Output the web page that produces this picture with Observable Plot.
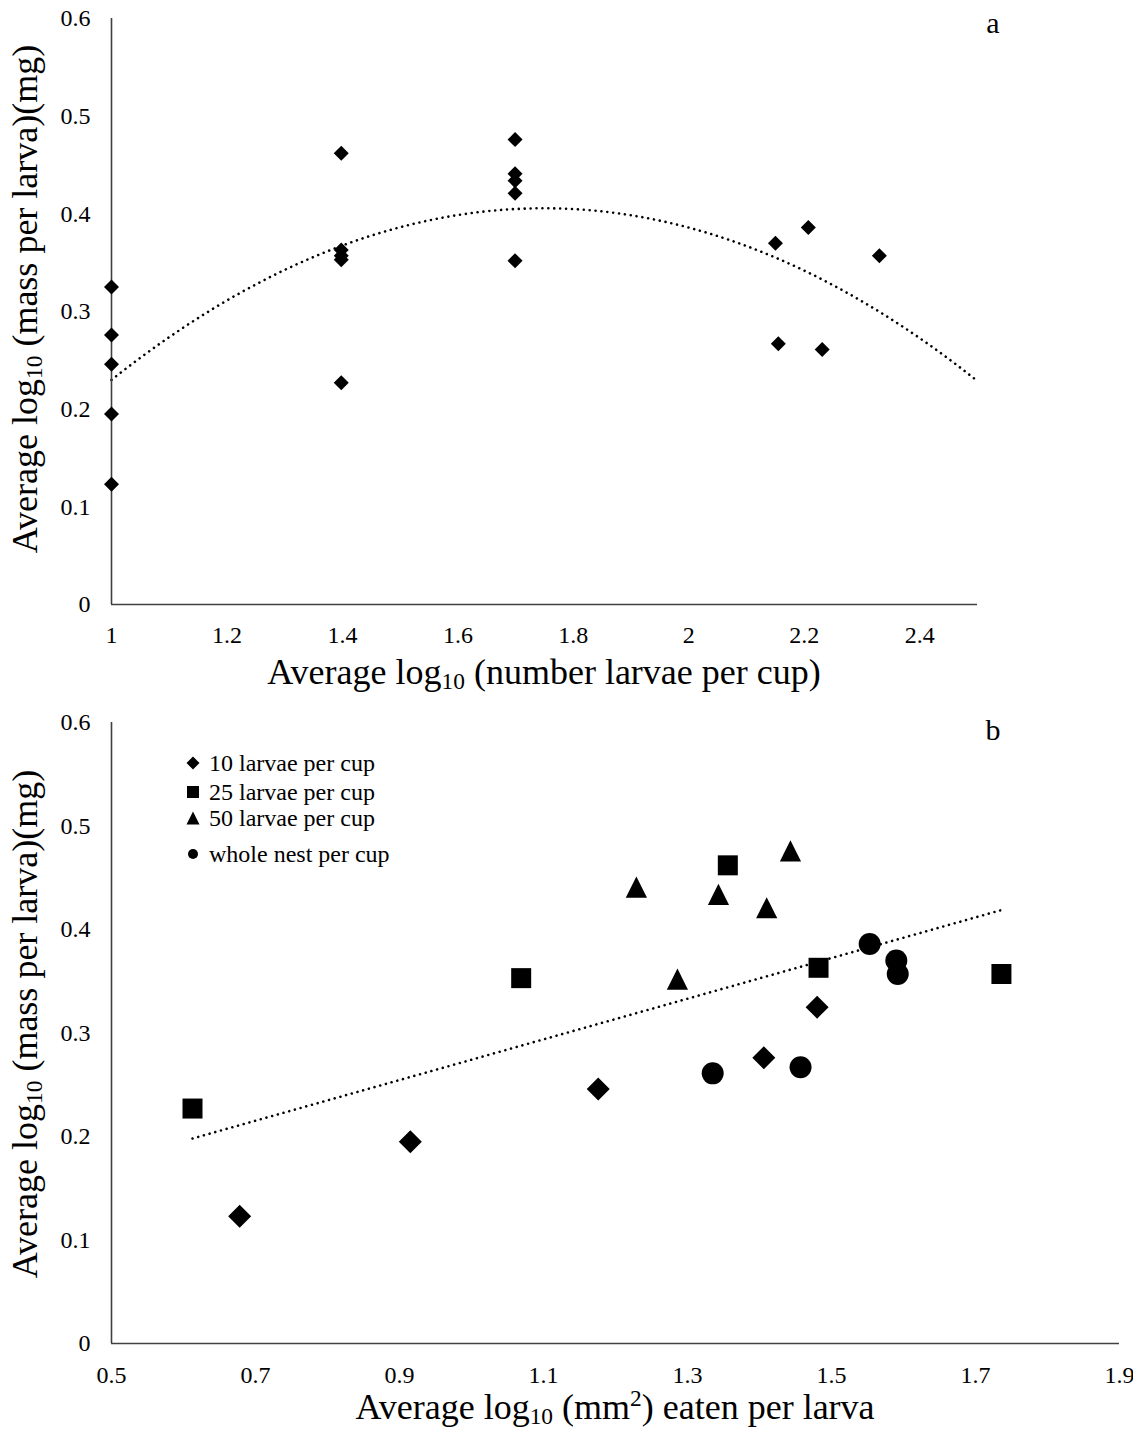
<!DOCTYPE html>
<html><head><meta charset="utf-8">
<script src="https://cdn.jsdelivr.net/npm/d3@7"></script>
<script src="https://cdn.jsdelivr.net/npm/@observablehq/plot@0.6"></script>
<style>
body{margin:0;background:#fff;}
#wrap{position:relative;width:1133px;height:1431px;background:#fff;font-family:"Liberation Serif","Times New Roman",serif;}
#pa{position:absolute;left:0;top:0;}
#pb{position:absolute;left:0;top:700px;}
</style></head><body><div id="wrap"><div id="pa"></div><div id="pb"></div></div>
<script>
// ---- data ----
const groupNames = ["10 larvae per cup", "25 larvae per cup", "50 larvae per cup", "whole nest per cup"];
// panel a x: average log10(number larvae per cup)
const logLarvae10 = [1, 1, 1, 1, 1];
const logLarvae25 = [1.398, 1.398, 1.398, 1.398, 1.398];
const logLarvae50 = [1.699, 1.699, 1.699, 1.699, 1.699];
const logLarvaeNest = [2.231, 2.155, 2.207, 2.150, 2.330];
// panel b x: average log10(mm2) eaten per larva
const logEaten10 = [0.678, 0.915, 1.176, 1.406, 1.480];
const logEaten25 = [0.6125, 1.069, 1.356, 1.482, 1.736];
const logEaten50 = [1.229, 1.286, 1.343, 1.410, 1.443];
const logEatenNest = [1.335, 1.457, 1.553, 1.590, 1.592];
// y: average log10(mass per larva)(mg)
const logMass10 = [0.123, 0.195, 0.246, 0.276, 0.325];
const logMass25 = [0.227, 0.353, 0.462, 0.363, 0.357];
const logMass50 = [0.441, 0.352, 0.434, 0.421, 0.476];
const logMassNest = [0.261, 0.267, 0.386, 0.370, 0.357];

const xTicksA = [1, 1.2, 1.4, 1.6, 1.8, 2, 2.2, 2.4];
const xDomainA = [1, 2.5];
const xTicksB = [0.5, 0.7, 0.9, 1.1, 1.3, 1.5, 1.7, 1.9];
const xDomainB = [0.5, 1.9];
const yTicks = [0, 0.1, 0.2, 0.3, 0.4, 0.5, 0.6];
const yDomain = [0, 0.6];

// ---- build table ----
const larvaeSets = [logLarvae10, logLarvae25, logLarvae50, logLarvaeNest];
const eatenSets = [logEaten10, logEaten25, logEaten50, logEatenNest];
const massSets = [logMass10, logMass25, logMass50, logMassNest];
const rows = [];
groupNames.forEach((g, gi) => {
  massSets[gi].forEach((m, i) => rows.push({group: g, larvae: larvaeSets[gi][i], eaten: eatenSets[gi][i], mass: m}));
});

// quadratic least-squares trend (panel a)
function polyfit2(xs, ys) {
  const S = [0,0,0,0,0], T = [0,0,0];
  xs.forEach((x, i) => { let p = 1; for (let k = 0; k < 5; k++) { S[k] += p; if (k < 3) T[k] += ys[i] * p; p *= x; } });
  const M = [[S[0],S[1],S[2],T[0]],[S[1],S[2],S[3],T[1]],[S[2],S[3],S[4],T[2]]];
  for (let c = 0; c < 3; c++) {
    for (let r = c + 1; r < 3; r++) { const f = M[r][c] / M[c][c]; for (let k = c; k < 4; k++) M[r][k] -= f * M[c][k]; }
  }
  const sol = [0,0,0];
  for (let r = 2; r >= 0; r--) { let s = M[r][3]; for (let k = r + 1; k < 3; k++) s -= M[r][k] * sol[k]; sol[r] = s / M[r][r]; }
  return sol;
}
const coef = polyfit2(rows.map(d => d.larvae), rows.map(d => d.mass));
const curve = d3.range(0, 81).map(i => { const x = xDomainA[0] + i * (xDomainA[1] - xDomainA[0]) / 80; return {x, y: coef[0] + coef[1]*x + coef[2]*x*x}; });

// ---- symbols ----
const rr = s => Math.sqrt(s / Math.PI);
const symDiamond = {draw(c, s){ const r = rr(s); c.moveTo(0,-r); c.lineTo(r,0); c.lineTo(0,r); c.lineTo(-r,0); c.closePath(); }};
const symSquare = {draw(c, s){ const r = rr(s); c.moveTo(-r,-r); c.lineTo(r,-r); c.lineTo(r,r); c.lineTo(-r,r); c.closePath(); }};
const symTriangle = {draw(c, s){ const r = rr(s); c.moveTo(0,-r); c.lineTo(r,r); c.lineTo(-r,r); c.closePath(); }};
const symCircle = {draw(c, s){ const r = rr(s); c.moveTo(r,0); c.arc(0,0,r,0,2*Math.PI); c.closePath(); }};
const groupSymbols = [symDiamond, symSquare, symTriangle, symCircle];
const groupR = [11.5, 10, 10.6, 11];
const legendR = [6.5, 6, 6.5, 5];

const TICK_FS = 24;
const fmt = d => String(+d.toFixed(1));
const axisColor = "#404040";
const dotted = {stroke: "black", strokeWidth: 2.6, strokeDasharray: "0.01 5.9", strokeLinecap: "round"};
const baseStyle = {fontFamily: '"Liberation Serif", "Times New Roman", serif', fontSize: TICK_FS + "px", color: "#000", background: "transparent", overflow: "visible"};

// ---- panel a ----
const plotA = Plot.plot({
  width: 1133, height: 700,
  marginLeft: 111, marginRight: 156, marginTop: 18, marginBottom: 96,
  style: baseStyle,
  x: {domain: xDomainA},
  y: {domain: yDomain},
  marks: [
    Plot.axisX({ticks: xTicksA, tickSize: 0, tickPadding: 21, tickFormat: fmt, label: null, fontSize: TICK_FS}),
    Plot.axisY({ticks: yTicks, tickSize: 0, tickPadding: 21, tickFormat: fmt, label: null, fontSize: TICK_FS}),
    Plot.line(curve, {x: "x", y: "y", ...dotted}),
    Plot.ruleX([xDomainA[0]], {stroke: axisColor, strokeWidth: 1.6}),
    Plot.ruleY([yDomain[0]], {stroke: axisColor, strokeWidth: 1.6}),
    Plot.dot(rows, {x: "larvae", y: "mass", symbol: symDiamond, r: 7.5, fill: "black"})
  ]
});
document.getElementById("pa").appendChild(plotA);

// ---- panel b ----
const plotB = Plot.plot({
  width: 1133, height: 731,
  marginLeft: 111, marginRight: 14, marginTop: 22, marginBottom: 88,
  style: baseStyle,
  x: {domain: xDomainB},
  y: {domain: yDomain},
  marks: [
    Plot.axisX({ticks: xTicksB, tickSize: 0, tickPadding: 22, tickFormat: fmt, label: null, fontSize: TICK_FS}),
    Plot.axisY({ticks: yTicks, tickSize: 0, tickPadding: 21, tickFormat: fmt, label: null, fontSize: TICK_FS}),
    Plot.linearRegressionY(rows, {x: "eaten", y: "mass", ci: 0, ...dotted}),
    Plot.ruleX([xDomainB[0]], {stroke: axisColor, strokeWidth: 1.6}),
    Plot.ruleY([yDomain[0]], {stroke: axisColor, strokeWidth: 1.6}),
    ...groupNames.map((g, gi) => Plot.dot(rows.filter(d => d.group === g), {x: "eaten", y: "mass", symbol: groupSymbols[gi], r: groupR[gi], fill: "black"}))
  ]
});
document.getElementById("pb").appendChild(plotB);

const svgA = plotA.tagName.toLowerCase() === "svg" ? plotA : plotA.querySelector("svg");
const svgB = plotB.tagName.toLowerCase() === "svg" ? plotB : plotB.querySelector("svg");

// enforce tick label font size
[svgA, svgB].forEach(svg => {
  d3.select(svg).selectAll('g[aria-label$="tick label"]').attr("font-size", TICK_FS).style("font-size", TICK_FS + "px");
  d3.select(svg).selectAll('g[aria-label$="tick label"] text').attr("font-size", TICK_FS).style("font-size", TICK_FS + "px");
});

// ---- titles (with sub/superscripts) ----
const FONT = '"Liberation Serif", "Times New Roman", serif';
function richText(svg, x, y, rotate, parts, size) {
  const t = d3.select(svg).append("text")
    .attr("transform", `translate(${x},${y})` + (rotate ? ` rotate(${rotate})` : ""))
    .attr("text-anchor", "middle").attr("font-family", FONT).attr("font-size", size).attr("fill", "#000");
  let shift = 0;
  parts.forEach(([txt, kind]) => {
    const target = kind === "sub" ? size * 0.14 : kind === "sup" ? -size * 0.36 : 0;
    const ts = t.append("tspan").text(txt).attr("dy", target - shift);
    if (kind) ts.attr("font-size", size * 0.65);
    shift = target;
  });
  return t;
}

richText(svgA, 544, 684, 0, [["Average log"], ["10", "sub"], [" (number larvae per cup)"]], 36);
richText(svgA, 37, 299, -90, [["Average log"], ["10", "sub"], [" (mass per larva)(mg)"]], 36);
d3.select(svgA).append("text").attr("x", 993).attr("y", 33).attr("text-anchor", "middle")
  .attr("font-family", FONT).attr("font-size", 30).text("a");

richText(svgB, 615, 719, 0, [["Average log"], ["10", "sub"], [" (mm"], ["2", "sup"], [") eaten per larva"]], 36);
richText(svgB, 37, 324, -90, [["Average log"], ["10", "sub"], [" (mass per larva)(mg)"]], 36);
d3.select(svgB).append("text").attr("x", 993).attr("y", 40).attr("text-anchor", "middle")
  .attr("font-family", FONT).attr("font-size", 30).text("b");

// legend
const legendY = [63, 92, 118, 154];
const lg = d3.select(svgB).append("g");
groupNames.forEach((g, gi) => {
  lg.append("path")
    .attr("transform", `translate(193,${legendY[gi]})`)
    .attr("d", d3.symbol(groupSymbols[gi], Math.PI * legendR[gi] * legendR[gi])())
    .attr("fill", "black");
  lg.append("text").attr("x", 209).attr("y", legendY[gi]).attr("dy", "0.35em")
    .attr("text-anchor", "start")
    .attr("font-family", FONT).attr("font-size", 24).attr("fill", "#000").text(g);
});
</script></body></html>
